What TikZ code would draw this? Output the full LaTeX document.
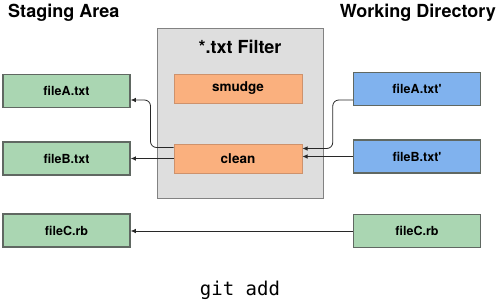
\documentclass[tikz,border=0pt]{standalone}
\usepackage{fontspec}
\setmainfont{TeX Gyre Heros}
\setmonofont{DejaVu Sans Mono}
\usetikzlibrary{arrows.meta,positioning}
\definecolor{GAgreen}{RGB}{170,214,178}
\definecolor{GAblue}{RGB}{128,178,238}
\definecolor{GAorange}{RGB}{250,176,126}
\definecolor{GAorangeedge}{RGB}{206,146,108}
\definecolor{GAedge}{RGB}{96,104,98}
\definecolor{GAgray}{RGB}{222,222,222}
\definecolor{GAgrayedge}{RGB}{130,130,130}
\definecolor{GAline}{RGB}{40,40,40}
\tikzset{
  staged/.style={draw=GAedge,line width=1.5pt,fill=GAgreen,text=black,
                 minimum width=127pt,minimum height=33pt,inner sep=0pt,
                 font=\bfseries\fontsize{12.5}{14}\selectfont},
  worked/.style={staged,fill=GAblue},
  filt/.style={draw=GAorangeedge,line width=1pt,fill=GAorange,text=black,
               minimum width=128pt,minimum height=29pt,inner sep=0pt,
               font=\bfseries\fontsize{13.5}{15}\selectfont},
  filterbox/.style={draw=GAgrayedge,line width=1pt,fill=GAgray,
                    minimum width=166pt,minimum height=170pt,inner sep=0pt},
  heading/.style={font=\bfseries\fontsize{18}{21}\selectfont,inner sep=0pt},
  fl/.style={-{Latex[length=5pt,width=4.5pt]},line width=0.8pt,draw=GAline,
             rounded corners=6pt}
}
\begin{document}
\begin{tikzpicture}[x=1pt,y=-1pt]
  \useasboundingbox (0,0) rectangle (500,303);
  % titles
  \node[heading,anchor=west] (stagetitle) at (8,13) {Staging Area};
  \node[heading,anchor=east] (worktitle) at (496,13) {Working Directory};
  % filter
  \node[filterbox] (filter) at (240,113) {};
  \node[heading] (filtertitle) at (240,47) {*.txt Filter};
  \node[filt] (smudge) at (238,88.5) {smudge};
  \node[filt,below=40pt of smudge] (clean) {clean};
  % staging area
  \node[staged] (stA) at (66.5,91) {fileA.txt};
  \node[staged,below=33pt of stA] (stB) {fileB.txt};
  \node[staged] (stC) at (66.5,230.5) {fileC.rb};
  % working directory
  \node[worked] (wdA) at (417,89) {fileA.txt\textquotesingle};
  \node[worked,below=33pt of wdA] (wdB) {fileB.txt\textquotesingle};
  \node[staged] (wdC) at (417,231) {fileC.rb};
  % connectors
  \draw[fl] ([yshift=-11pt]wdA.west) -- ++(-20,0) |- ([yshift=10pt]clean.east);
  \draw[fl] (wdB.west) -- (wdB.west -| clean.east);
  \draw[fl] ([yshift=11pt]clean.west) -- ++(-23,0) |- ([yshift=-9pt]stA.east);
  \draw[fl] (clean.west |- stB) -- (stB.east);
  \draw[fl] (wdC.west) -- (wdC.west -| stC.east);
  \node[font=\ttfamily\fontsize{19}{22}\selectfont] (cmd) at (240,290) {git add};
\end{tikzpicture}
\end{document}
